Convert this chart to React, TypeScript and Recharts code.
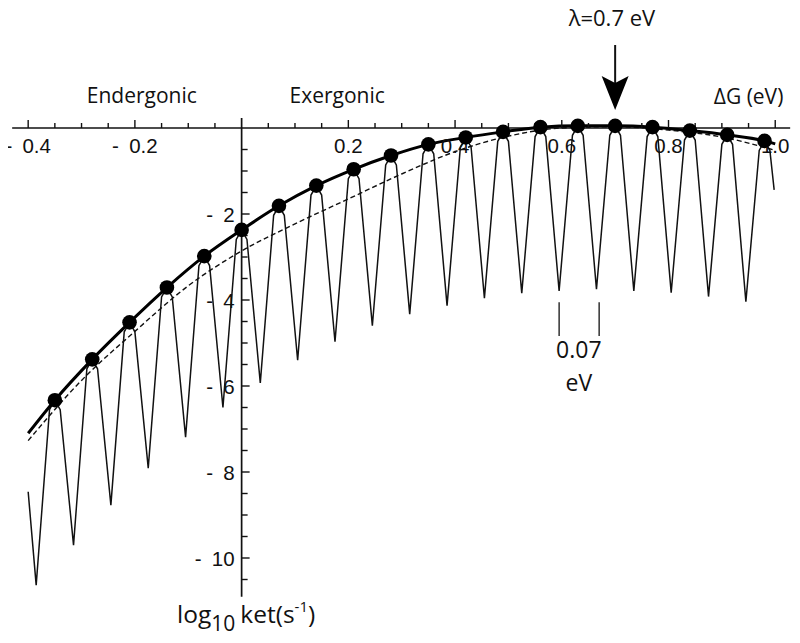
import React from 'react';
import {
  ComposedChart,
  Line,
  Scatter,
  XAxis,
  YAxis,
  ReferenceLine,
  ReferenceDot,
} from 'recharts';

// thin oscillating curve (vibronic progression)
const ripX = [
  -0.4, -0.385,
  -0.36, -0.35, -0.34, -0.315,
  -0.29, -0.28, -0.27, -0.245,
  -0.22, -0.21, -0.2, -0.175,
  -0.15, -0.14, -0.13, -0.105,
  -0.08, -0.07, -0.06, -0.035,
  -0.01, 0, 0.01, 0.035,
  0.06, 0.07, 0.08, 0.105,
  0.13, 0.14, 0.15, 0.175,
  0.2, 0.21, 0.22, 0.245,
  0.27, 0.28, 0.29, 0.315,
  0.34, 0.35, 0.36, 0.385,
  0.41, 0.42, 0.43, 0.455,
  0.48, 0.49, 0.5, 0.525,
  0.55, 0.56, 0.57, 0.595,
  0.62, 0.63, 0.64, 0.665,
  0.69, 0.7, 0.71, 0.735,
  0.76, 0.77, 0.78, 0.805,
  0.83, 0.84, 0.85, 0.875,
  0.9, 0.91, 0.92, 0.945,
  0.97, 0.98, 0.99, 0.998,
];
const ripY = [
  -8.46, -10.63,
  -6.55, -6.33, -6.55, -9.7,
  -5.6, -5.38, -5.6, -8.77,
  -4.74, -4.52, -4.74, -7.91,
  -3.93, -3.71, -3.93, -7.19,
  -3.2, -2.98, -3.2, -6.5,
  -2.59, -2.37, -2.59, -5.93,
  -2.03, -1.81, -2.03, -5.4,
  -1.56, -1.34, -1.56, -4.97,
  -1.18, -0.96, -1.18, -4.6,
  -0.86, -0.64, -0.86, -4.33,
  -0.6, -0.38, -0.6, -4.13,
  -0.44, -0.22, -0.44, -3.96,
  -0.31, -0.09, -0.31, -3.84,
  -0.2, 0.02, -0.2, -3.79,
  -0.17, 0.05, -0.17, -3.75,
  -0.17, 0.05, -0.17, -3.79,
  -0.2, 0.02, -0.2, -3.83,
  -0.28, -0.06, -0.28, -3.92,
  -0.38, -0.16, -0.38, -4.04,
  -0.52, -0.3, -0.52, -1.44,
];

// thick Marcus curve, dots every 0.07 eV
const marcusX = [-0.4, -0.35, -0.28, -0.21, -0.14, -0.07, 0, 0.07, 0.14, 0.21, 0.28, 0.35, 0.42, 0.49, 0.56, 0.63, 0.7, 0.77, 0.84, 0.91, 0.98, 1.0];
const marcusY = [-7.1, -6.33, -5.38, -4.52, -3.71, -2.98, -2.37, -1.81, -1.34, -0.96, -0.64, -0.38, -0.22, -0.09, 0.02, 0.05, 0.05, 0.02, -0.06, -0.16, -0.3, -0.37];

// dashed curve
const dashX = [-0.4, -0.3, -0.2, -0.1, 0, 0.1, 0.2, 0.3, 0.4, 0.5, 0.6, 0.7, 0.8, 0.9, 1.0];
const dashY = [-7.27, -5.87, -4.73, -3.67, -2.86, -2.23, -1.65, -1.07, -0.55, -0.19, 0.0, 0.03, -0.05, -0.21, -0.52];

const xTicks = [-0.4, -0.35, -0.3, -0.25, -0.2, -0.15, -0.1, -0.05, 0.05, 0.1, 0.15, 0.2, 0.25, 0.3, 0.35, 0.4, 0.45, 0.5, 0.55, 0.6, 0.65, 0.7, 0.75, 0.8, 0.85, 0.9, 0.95, 1.0];
const xMajor = [-0.4, -0.2, 0.2, 0.4, 0.6, 0.8, 1.0];
const xLabels = ['-\u20020.4', '-\u20020.2', '0.2', '0.4', '0.6', '0.8', '1.0'];

const yTicks = [-0.5, -1, -1.5, -2, -2.5, -3, -3.5, -4, -4.5, -5, -5.5, -6, -6.5, -7, -7.5, -8, -8.5, -9, -9.5, -10, -10.5];
const yMajor = [-2, -4, -6, -8, -10];
const yLabels = ['-\u20022', '-\u20024', '-\u20026', '-\u20028', '-\u200210'];

const ripple = ripX.map((x, i) => ({ x, y: ripY[i] }));
const marcus = marcusX.map((x, i) => ({ x, y: marcusY[i] }));
const dots = marcus.slice(1, -1);
const dashed = dashX.map((x, i) => ({ x, y: dashY[i] }));

const NUM_FONT = '"Liberation Sans", Arial, sans-serif';
const TXT_FONT = '"Open Sans", sans-serif';

const textAt = (content: React.ReactNode, size: number, anchor = 'middle', font = TXT_FONT) =>
  (p: any) => (
    <text x={p.cx} y={p.cy} fontSize={size} fontFamily={font} textAnchor={anchor} fill="#111">
      {content}
    </text>
  );

export default function App() {
  return (
    <ComposedChart
      width={800}
      height={643}
      margin={{ top: 11.9, right: 14.1, bottom: 20.5, left: 17.5 }}
      style={{ position: 'relative', left: -8, top: -8 }}
    >
      <XAxis type="number" dataKey="x" domain={[-0.42, 1.02]} allowDataOverflow hide />
      <YAxis type="number" dataKey="y" domain={[-11.5, 2.7]} allowDataOverflow hide />

      {/* axes crossing at the origin */}
      <ReferenceLine
        segment={[{ x: -0.43, y: 0 }, { x: 1.028, y: 0 }]}
        stroke="#111"
        strokeWidth={1.7}
        ifOverflow="visible"
      />
      <ReferenceLine
        segment={[{ x: 0, y: 0.23 }, { x: 0, y: -10.9 }]}
        stroke="#111"
        strokeWidth={1.7}
        ifOverflow="visible"
      />
      {xTicks.map((v) => {
        const major = xMajor.includes(v);
        const idx = xMajor.indexOf(v);
        return (
          <ReferenceDot
            key={`xt${v}`}
            x={v}
            y={0}
            ifOverflow="visible"
            shape={(p: any) => (
              <g>
                <line x1={p.cx} x2={p.cx} y1={p.cy} y2={p.cy - (major ? 8 : 5)} stroke="#111" strokeWidth={1.4} />
                {major && (
                  <text x={p.cx} y={p.cy + 25} fontSize={20.5} fontFamily={NUM_FONT} textAnchor="middle" fill="#111">
                    {xLabels[idx]}
                  </text>
                )}
              </g>
            )}
          />
        );
      })}
      {yTicks.map((v) => {
        const major = yMajor.includes(v);
        const idx = yMajor.indexOf(v);
        return (
          <ReferenceDot
            key={`yt${v}`}
            x={0}
            y={v}
            ifOverflow="visible"
            shape={(p: any) => (
              <g>
                <line x1={p.cx} x2={p.cx + (major ? 8 : 6)} y1={p.cy} y2={p.cy} stroke="#111" strokeWidth={1.4} />
                {major && (
                  <text x={p.cx - 7} y={p.cy + 7.5} fontSize={20.5} fontFamily={NUM_FONT} textAnchor="end" fill="#111">
                    {yLabels[idx]}
                  </text>
                )}
              </g>
            )}
          />
        );
      })}

      <Line
        data={dashed}
        dataKey="y"
        type="monotone"
        stroke="#111"
        strokeWidth={1.4}
        strokeDasharray="5 3"
        dot={false}
        isAnimationActive={false}
      />
      <Line
        data={ripple}
        dataKey="y"
        type="linear"
        stroke="#111"
        strokeWidth={1.5}
        dot={false}
        isAnimationActive={false}
      />
      <Line
        data={marcus}
        dataKey="y"
        type="monotone"
        stroke="#000"
        strokeWidth={3}
        dot={false}
        isAnimationActive={false}
      />
      <Scatter
        data={dots}
        dataKey="y"
        isAnimationActive={false}
        shape={(p: any) => <circle cx={p.cx} cy={p.cy} r={7.3} fill="#000" />}
      />

      {/* lambda arrow */}
      <ReferenceLine
        segment={[{ x: 0.7, y: 1.93 }, { x: 0.7, y: 1.0 }]}
        stroke="#111"
        strokeWidth={2}
        ifOverflow="visible"
      />
      <ReferenceDot
        x={0.7}
        y={0.42}
        ifOverflow="visible"
        shape={(p: any) => (
          <polygon
            points={`${p.cx - 13.5},${p.cy - 34} ${p.cx},${p.cy - 27} ${p.cx + 13.5},${p.cy - 34} ${p.cx},${p.cy}`}
            fill="#000"
          />
        )}
      />
      <ReferenceDot x={0.694} y={2.37} ifOverflow="visible" shape={textAt('λ=0.7 eV', 22)} />

      <ReferenceDot x={-0.187} y={0.58} ifOverflow="visible" shape={textAt('Endergonic', 21)} />
      <ReferenceDot x={0.179} y={0.58} ifOverflow="visible" shape={textAt('Exergonic', 21)} />
      <ReferenceDot x={0.95} y={0.56} ifOverflow="visible" shape={textAt('ΔG (eV)', 21)} />

      {/* 0.07 eV spacing marker */}
      <ReferenceLine segment={[{ x: 0.595, y: -4.05 }, { x: 0.595, y: -4.84 }]} stroke="#111" strokeWidth={1.3} ifOverflow="visible" />
      <ReferenceLine segment={[{ x: 0.67, y: -4.05 }, { x: 0.67, y: -4.84 }]} stroke="#111" strokeWidth={1.3} ifOverflow="visible" />
      <ReferenceDot x={0.632} y={-5.36} ifOverflow="visible" shape={textAt('0.07', 23)} />
      <ReferenceDot x={0.632} y={-6.12} ifOverflow="visible" shape={textAt('eV', 23)} />

      <ReferenceDot
        x={-0.121}
        y={-11.51}
        ifOverflow="visible"
        shape={textAt(
          <>
            <tspan>log</tspan>
            <tspan fontSize={21} dy={8}>10</tspan>
            <tspan dy={-8} dx={5}>ket(s</tspan>
            <tspan fontSize={15} dy={-11}>-1</tspan>
            <tspan dy={11}>)</tspan>
          </>,
          24.5,
          'start'
        )}
      />
    </ComposedChart>
  );
}
